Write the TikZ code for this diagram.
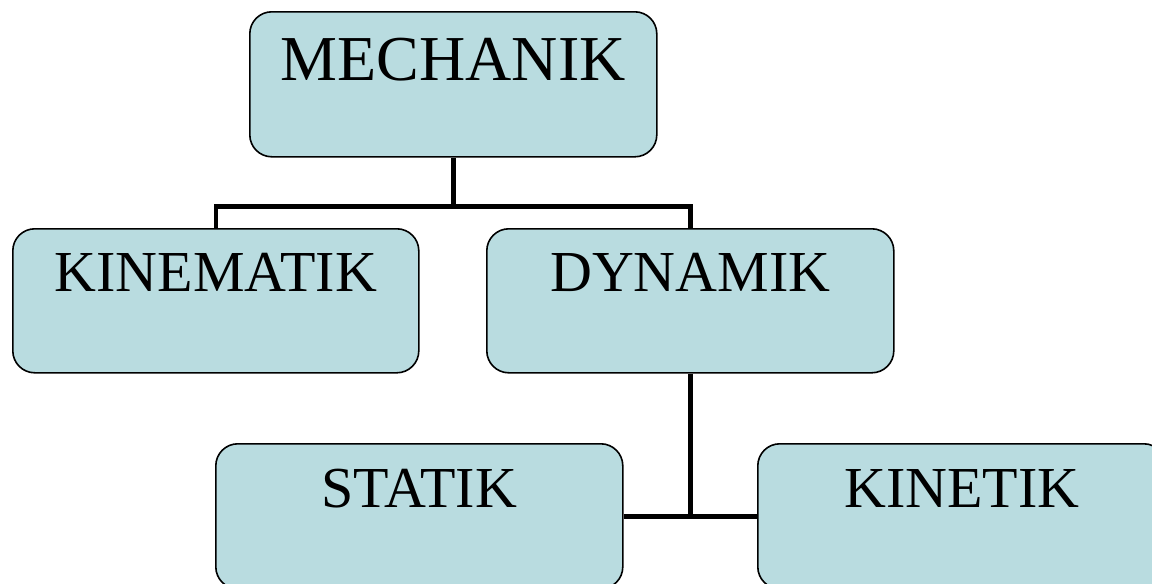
\documentclass[tikz,border=0pt]{standalone}
\usepackage{fontspec}
\setmainfont{Liberation Serif}
\usetikzlibrary{calc}
\definecolor{boxfill}{RGB}{185,220,224}
\tikzset{
  orgbox/.style={draw=black, line width=1.6pt, fill=boxfill, rounded corners=22pt,
    rectangle, anchor=north west, inner sep=0pt, minimum width=407pt,
    font=\fontsize{58pt}{60pt}\selectfont, text height=63pt, text depth=81pt},
  conn/.style={draw=black, line width=4.6pt}
}
\begin{document}
\begin{tikzpicture}[x=1pt,y=1pt]
\clip (0,0) rectangle (1152,-584);
\fill[white] (0,0) rectangle (1152,-584);
\node[orgbox, font=\fontsize{64pt}{66pt}\selectfont, text height=69pt, text depth=76pt] (mech) at (249,-11) {MECHANIK};
\node[orgbox, minimum width=406pt] (kinem) at (12,-228) {KINEMATIK};
\node[orgbox] (dyn) at (486,-228) {DYNAMIK};
\node[orgbox, text height=64pt, text depth=81pt] (stat) at (215,-443) {STATIK};
\node[orgbox, minimum width=408pt, text height=64pt, text depth=81pt] (kinet) at (757,-443) {KINETIK};
\coordinate (j1) at ($(mech.south)+(0,-49)$);
\draw[conn] (mech.south) -- (j1);
\draw[conn] (kinem.north) |- (j1) -| (dyn.north);
\coordinate (j2) at (dyn.south |- stat.east);
\draw[conn] (dyn.south) -- (j2);
\draw[conn] (stat.east) -- (kinet.west);
\end{tikzpicture}
\end{document}
